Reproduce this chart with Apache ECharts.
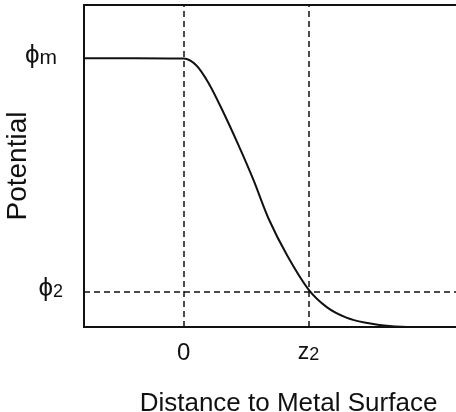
<!DOCTYPE html>
<html>
<head>
<meta charset="utf-8">
<script src="https://cdn.jsdelivr.net/npm/echarts@6/dist/echarts.min.js"></script>
<style>
  html, body { margin: 0; padding: 0; background: #fff; }
  #chart { width: 456px; height: 412px; }
</style>
</head>
<body>
<div id="chart"></div>
<script>
// distance (z2 = 1) and normalised potential
const distance = [-0.8, -0.4, 0, 0.1, 0.2, 0.31, 0.44, 0.56, 0.68, 0.83, 1.0, 1.15, 1.3, 1.45, 1.65, 1.85, 2.2]
const potential = [0.835, 0.835, 0.834, 0.813, 0.757, 0.673, 0.564, 0.456, 0.337, 0.222, 0.117, 0.061, 0.030, 0.014, 0.003, 0, 0]
const phiM = 0.835
const phi2 = 0.11
const z2 = 1.0
const xTicks = [0, z2]
const yTicks = [phi2, phiM]

const font = 'Liberation Sans, Arial, Helvetica, sans-serif'
const ink = '#111'

const chart = echarts.init(document.getElementById('chart'))

const option = {
  animation: false,
  grid: {
    left: 84,
    top: 5,
    right: -2,
    bottom: 85,
    outerBoundsMode: 'none',
    containLabel: false,
    show: true,
    borderColor: ink,
    borderWidth: 2
  },
  xAxis: {
    type: 'value',
    min: -0.8,
    max: 2.2,
    axisLine: { show: true, onZero: false, lineStyle: { color: ink, width: 2 } },
    axisTick: { show: false },
    splitLine: { show: false },
    axisLabel: {
      customValues: xTicks,
      margin: 14,
      color: ink,
      fontFamily: font,
      fontSize: 24,
      formatter: v => v === 0 ? '{n|0}' : '{z|z}{s|2}',
      rich: {
        n: { fontSize: 24, fontFamily: font, color: ink },
        z: { fontSize: 23, fontFamily: font, color: ink, padding: [0, 0, 6, 0] },
        s: { fontSize: 18, fontFamily: font, color: ink }
      }
    },
    name: 'Distance to Metal Surface',
    nameLocation: 'middle',
    nameGap: 64,
    nameMoveOverlap: false,
    nameTextStyle: { fontSize: 26, fontFamily: font, color: ink, padding: [0, 0, 0, 35] }
  },
  yAxis: {
    type: 'value',
    min: 0,
    max: 1,
    axisLine: { show: true, onZero: false, lineStyle: { color: ink, width: 2 } },
    axisTick: { show: false },
    splitLine: { show: false },
    axisLabel: {
      customValues: yTicks,
      margin: 21,
      color: ink,
      fontFamily: font,
      formatter: v => Math.abs(v - phiM) < 1e-6 ? '{p|ϕ}{m|m}' : '{p|ϕ}{s|2}',
      rich: {
        p: { fontSize: 26, fontFamily: font, color: ink, padding: [0, 0, 5, 0] },
        m: { fontSize: 21, fontFamily: font, color: ink, padding: [0, 6, 0, 0] },
        s: { fontSize: 18, fontFamily: font, color: ink }
      }
    },
    name: 'Potential',
    nameLocation: 'middle',
    nameGap: 52,
    nameMoveOverlap: false,
    nameTextStyle: { fontSize: 28, fontFamily: font, color: ink }
  },
  series: [{
    type: 'line',
    data: distance.map((d, i) => [d, potential[i]]),
    smooth: 0.3,
    showSymbol: false,
    lineStyle: { color: ink, width: 2 },
    markLine: {
      silent: true,
      symbol: ['none', 'none'],
      label: { show: false },
      lineStyle: { color: ink, width: 1.5, type: [6, 4] },
      data: [{ xAxis: 0 }, { xAxis: z2 }, { yAxis: phi2 }]
    }
  }]
}

chart.setOption(option)
</script>
</body>
</html>
